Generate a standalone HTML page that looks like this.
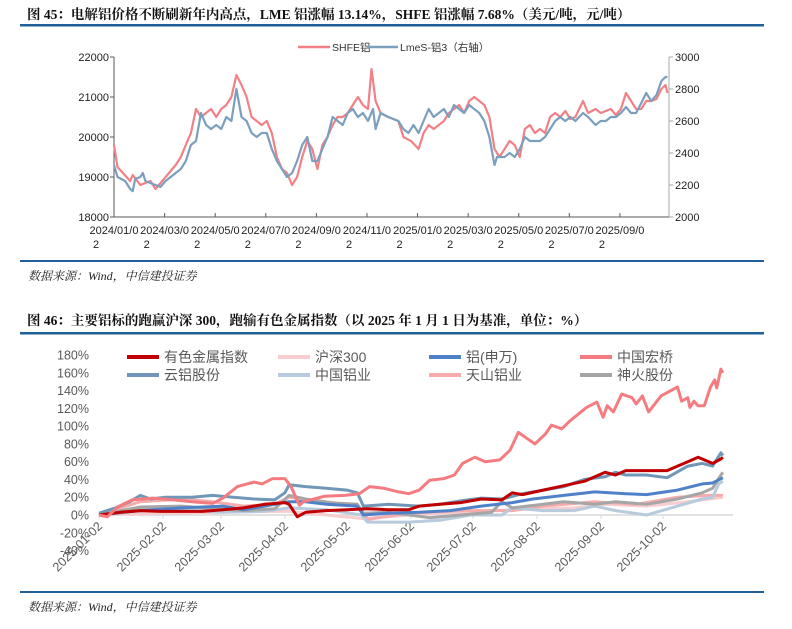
<!DOCTYPE html>
<html><head><meta charset="utf-8">
<style>
html,body{margin:0;padding:0;background:#fff;}
svg{display:block;font-family:"Liberation Sans","Noto Sans CJK SC",sans-serif;}
</style></head>
<body>
<svg id="page" width="792" height="629" viewBox="0 0 792 629">
  <text x="27" y="19" font-size="13.5" font-weight="bold" fill="#111" font-family="'Liberation Serif','Noto Serif CJK SC',serif">图 45：电解铝价格不断刷新年内高点，LME 铝涨幅 13.14%，SHFE 铝涨幅 7.68%（美元/吨，元/吨）</text>
  <rect x="20" y="24" width="744" height="2.5" fill="#1f5f9a"/>
  <g id="c1"></g>
  <rect x="20" y="260" width="744" height="2" fill="#1f5f9a"/>
  <text x="28" y="280" font-size="12" font-style="italic" fill="#222" font-family="'Liberation Serif','Noto Serif CJK SC',serif">数据来源：Wind，中信建投证券</text>

  <text x="27" y="325" font-size="13.5" font-weight="bold" fill="#111" font-family="'Liberation Serif','Noto Serif CJK SC',serif">图 46：主要铝标的跑赢沪深 300，跑输有色金属指数（以 2025 年 1 月 1 日为基准，单位：%）</text>
  <rect x="20" y="332" width="744" height="2.5" fill="#1f5f9a"/>
  <g id="c2"></g>
  <rect x="20" y="591" width="744" height="2" fill="#1f5f9a"/>
  <text x="28" y="611" font-size="12" font-style="italic" fill="#222" font-family="'Liberation Serif','Noto Serif CJK SC',serif">数据来源：Wind，中信建投证券</text>
</svg>
<script>
// ===== Chart 1 data =====
const shfeMonths=[0,.14,.64,.74,1.04,1.44,1.64,2.04,2.44,2.64,2.84,3.04,3.24,3.44,3.64,3.84,4.04,4.24,4.44,4.64,4.84,5.04,5.24,5.44,5.64,5.84,6.04,6.24,6.44,6.64,6.84,7.04,7.24,7.44,7.64,7.84,8.04,8.24,8.44,8.64,8.84,9.04,9.24,9.44,9.64,9.84,10.04,10.18,10.34,10.54,10.84,11.24,11.44,11.74,12.04,12.24,12.44,12.64,12.84,13.04,13.24,13.44,13.64,13.84,14.04,14.24,14.44,14.64,14.84,15.04,15.14,15.24,15.44,15.64,15.84,16.04,16.24,16.44,16.64,16.84,17.04,17.24,17.44,17.64,17.84,18.04,18.24,18.54,18.74,19.04,19.24,19.44,19.64,19.84,20.04,20.24,20.44,20.64,20.84,21.04,21.24,21.44,21.64,21.8,21.88];
const shfeValues=[19800,19250,18900,19050,18800,18900,18700,19000,19300,19500,19800,20100,20700,20500,20600,20700,20500,20700,20800,21000,21550,21300,21000,20500,20400,20300,20400,20100,19500,19200,19100,18800,19000,19500,19900,19700,19200,19800,20000,20300,20500,20500,20600,20800,21000,20800,20700,21700,20900,20600,20500,20400,20000,19900,19700,20100,20300,20200,20300,20400,20600,20700,20800,20600,20900,21000,20900,20800,20500,19700,19600,19500,19700,19900,19800,19500,20200,20300,20100,20200,20100,20500,20600,20500,20650,20450,20500,20900,20600,20700,20600,20650,20700,20550,20700,21100,20900,20700,20700,20900,20900,20950,21200,21300,21100];
const lmeMonths=[0,.14,.44,.64,.74,.84,1.04,1.14,1.24,1.64,1.84,2.04,2.44,2.64,2.84,3.04,3.24,3.44,3.64,3.84,4.04,4.24,4.44,4.64,4.84,5.04,5.24,5.44,5.64,5.84,6.04,6.24,6.44,6.64,6.84,7.04,7.24,7.44,7.64,7.84,8.04,8.24,8.44,8.64,8.84,9.04,9.24,9.44,9.64,9.84,10.04,10.24,10.34,10.54,10.84,11.24,11.44,11.64,11.84,12.04,12.24,12.44,12.64,12.84,13.04,13.24,13.44,13.64,13.84,14.04,14.24,14.44,14.64,14.84,15.04,15.14,15.44,15.64,15.84,16.04,16.24,16.44,16.64,16.84,17.04,17.24,17.44,17.64,17.84,18.04,18.24,18.54,18.74,19.04,19.24,19.44,19.64,19.84,20.04,20.24,20.44,20.64,20.84,21.04,21.24,21.44,21.64,21.8,21.88];
const lmeValues=[2325,2250,2225,2175,2162,2238,2250,2275,2225,2200,2188,2225,2275,2300,2350,2450,2475,2650,2575,2550,2575,2550,2625,2600,2800,2625,2600,2525,2500,2525,2525,2425,2350,2300,2250,2275,2350,2450,2500,2350,2350,2425,2500,2625,2600,2575,2650,2675,2625,2650,2600,2675,2550,2650,2625,2600,2550,2525,2575,2525,2600,2675,2625,2650,2675,2625,2700,2675,2650,2700,2675,2650,2600,2500,2325,2375,2375,2400,2375,2425,2500,2475,2475,2475,2500,2550,2600,2625,2600,2625,2600,2650,2625,2575,2600,2600,2625,2625,2650,2687,2650,2650,2712,2775,2725,2762,2850,2875,2875];
const leftTicks=[18000,19000,20000,21000,22000];
const rightTicks=[2000,2200,2400,2600,2800,3000];
const c1Labels=["2024/01/0","2024/03/0","2024/05/0","2024/07/0","2024/09/0","2024/11/0","2025/01/0","2025/03/0","2025/05/0","2025/07/0","2025/09/0"];

// ===== Chart 2 data =====
const seriesNames=["有色金属指数","沪深300","铝(申万)","中国宏桥","云铝股份","中国铝业","天山铝业","神火股份"];
const ysDays=[0,10,20,30,40,50,60,70,80,90,92,96,100,110,120,130,140,150,155,165,175,185,195,200,205,215,225,235,240,245,250,255,265,275,280,285,290,293,297,301,302];
const ysValues=[0,3,5,4,4,4,6,8,12,14,12,-2,3,5,6,7,6,6,10,12,14,18,17,25,23,28,33,38,43,48,45,50,50,50,55,60,65,62,58,63,65];
const hsDays=[0,30,60,80,92,128,150,175,200,230,245,265,285,302];
const hsValues=[0,2,3,4,4,-4,0,3,6,8,12,10,15,20];
const lvDays=[0,20,40,60,70,80,92,100,110,125,128,140,155,170,185,200,210,225,240,255,265,280,292,297,302];
const lvValues=[0,5,8,10,6,10,15,15,12,10,0,2,3,5,10,14,18,22,26,24,23,28,35,36,42];
const hqDays=[0,4,9,16,26,36,45,55,60,67,75,79,84,90,93,97,99,109,119,126,131,138,145,150,155,160,167,172,176,182,187,194,199,203,206,211,216,219,224,228,236,241,244,246,249,253,258,260,263,266,272,280,282,285,286,288,290,293,296,298,299,301,302];
const hqValues=[0,-2,9,17,19,17,15,13,19,32,37,35,41,41,32,11,15,21,22,24,32,30,26,24,28,39,41,45,58,65,60,62,73,93,88,80,91,101,97,106,121,127,110,123,116,136,132,125,134,116,134,144,128,132,121,128,123,123,144,152,143,164,160];
const ylDays=[0,8,15,20,25,32,45,55,65,75,85,90,92,100,110,120,125,128,140,155,165,175,185,195,205,215,225,235,245,250,255,265,275,285,292,297,301,302];
const ylValues=[2,8,15,22,18,20,20,22,20,18,17,25,34,32,30,28,25,10,12,10,12,16,19,18,24,28,32,40,43,48,45,45,42,55,58,55,70,67];
const zlDays=[0,20,40,60,80,92,110,127,130,150,165,180,195,200,215,230,240,250,265,280,292,297,300,302];
const zlValues=[0,6,6,3,4,8,6,0,-8,-8,-6,0,0,8,5,5,10,5,0,10,18,20,35,38];
const tsDays=[0,20,40,55,70,85,92,105,125,130,150,175,200,215,240,260,280,295,302];
const tsValues=[0,15,18,15,10,12,20,15,12,-5,2,5,5,10,15,12,20,22,22];
const shDays=[0,20,40,50,70,85,92,100,115,125,128,140,160,175,190,195,200,215,225,240,250,265,280,292,297,301,302];
const shValues=[0,9,10,8,5,7,22,18,13,12,2,3,-3,0,3,15,8,12,15,12,15,12,18,25,30,45,48];
const c2Ticks=[-40,-20,0,20,40,60,80,100,120,140,160,180];
const c2TickDays=[0,31,59,90,120,151,181,212,243,273];
const c2TickLabels=["2025-01-02","2025-02-02","2025-03-02","2025-04-02","2025-05-02","2025-06-02","2025-07-02","2025-08-02","2025-09-02","2025-10-02"];

const NS="http://www.w3.org/2000/svg";
function mk(parent,tag,attrs,text){const e=document.createElementNS(NS,tag);for(const k in attrs)e.setAttribute(k,attrs[k]);if(text!==undefined)e.textContent=text;parent.appendChild(e);return e;}

// ===== Chart 1 render =====
(function(){
  const g=document.getElementById('c1');
  const X0=114,X1=669,Y0=217,Y1=57,MMAX=21.94;
  const x=m=>X0+(m/MMAX)*(X1-X0);
  const yl=v=>Y0-(v-18000)/4000*(Y0-Y1);
  const yr=v=>Y0-(v-2000)/1000*(Y0-Y1);
  let a=mk(g,'line',{x1:X0,y1:Y1,x2:X0,y2:Y0,stroke:'#595959','stroke-width':1});
  
  
  a=mk(g,'line',{x1:X1,y1:Y1,x2:X1,y2:Y0,stroke:'#aaa','stroke-width':1});
  
  
  a=mk(g,'line',{x1:X0,y1:Y0,x2:X1,y2:Y0,stroke:'#595959','stroke-width':1});
  
  
  leftTicks.forEach(v=>{
    mk(g,'line',{x1:X0-4,y1:yl(v),x2:X0,y2:yl(v),stroke:'#595959'});
    const t=mk(g,'text',{x:X0-5,y:yl(v)+4,'font-size':11,'text-anchor':'end',fill:'#222'},String(v));
    
    
  });
  rightTicks.forEach(v=>{
    mk(g,'line',{x1:X1,y1:yr(v),x2:X1+4,y2:yr(v),stroke:'#aaa'});
    const t=mk(g,'text',{x:X1+6,y:yr(v)+4,'font-size':11,fill:'#222'},String(v));
    
    
  });
  c1Labels.forEach((l,i)=>{
    const xx=x(i*2);
    mk(g,'line',{x1:xx,y1:Y0,x2:xx,y2:Y0-4,stroke:'#595959'});
    const t=mk(g,'text',{x:xx,y:Y0+17,'font-size':11,'text-anchor':'middle',fill:'#222'},l);
    
    
    const t2=mk(g,'text',{x:xx-21,y:Y0+31,'font-size':11,fill:'#222'},'2');
    
    
  });
  const p1=mk(g,'path',{d:shfeMonths.map((m,i)=>(i?'L':'M')+x(m).toFixed(1)+','+yl(shfeValues[i]).toFixed(1)).join(''),fill:'none',stroke:'#f28086','stroke-width':2.2,'stroke-linejoin':'round'});
  
  
  const p2=mk(g,'path',{d:lmeMonths.map((m,i)=>(i?'L':'M')+x(m).toFixed(1)+','+yr(lmeValues[i]).toFixed(1)).join(''),fill:'none',stroke:'#7c9fbd','stroke-width':2.2,'stroke-linejoin':'round'});
  
  
  // legend
  const lg=mk(g,'g',{});
  
  
  mk(lg,'line',{x1:298,y1:47,x2:330,y2:47,stroke:'#f28086','stroke-width':2.5});
  let t=mk(lg,'text',{x:332,y:51,'font-size':10.5,fill:'#333'},'SHFE铝');
  
  
  mk(lg,'line',{x1:367,y1:47,x2:398,y2:47,stroke:'#7c9fbd','stroke-width':2.5});
  t=mk(lg,'text',{x:400,y:51,'font-size':10.5,fill:'#333'},'LmeS-铝3（右轴）');
  
  
})();

// ===== Chart 2 render =====
(function(){
  const g=document.getElementById('c2');
  const X0=99,PXD=2.066,Z=515,PX=160/180;
  const x=d=>X0+d*PXD;
  const y=v=>Z-v*PX;
  c2Ticks.forEach(v=>{
    const t=mk(g,'text',{x:89,y:y(v)+4.5,'font-size':12.5,'text-anchor':'end',fill:'#595959'},v+'%');
    
    
  });
  const ax=mk(g,'line',{x1:X0,y1:Z,x2:x(302)+10,y2:Z,stroke:'#d9d9d9','stroke-width':1.5});
  
  
  c2TickDays.forEach((d,i)=>{
    mk(g,'line',{x1:x(d),y1:Z,x2:x(d),y2:Z+4,stroke:'#d9d9d9'});
    const t=mk(g,'text',{x:x(d)+4,y:Z+12,'font-size':12.5,'text-anchor':'end',fill:'#595959',transform:`rotate(-45 ${x(d)+4} ${Z+12})`},c2TickLabels[i]);
    
    
  });
  const colors=['#c00000','#f7cdd0','#4f81c8','#f47c80','#7097b8','#b7cbdc','#f6abad','#a6a6a6'];
  const days=[ysDays,hsDays,lvDays,hqDays,ylDays,zlDays,tsDays,shDays];
  const vals=[ysValues,hsValues,lvValues,hqValues,ylValues,zlValues,tsValues,shValues];
  const ids=['nonferrous-index-line','csi300-line','aluminum-sw-line','china-hongqiao-line','yunnan-aluminium-line','chalco-line','tianshan-aluminum-line','shenhuo-line'];
  const order=[1,6,5,7,2,4,0,3];
  order.forEach(i=>{
    const p=mk(g,'path',{d:days[i].map((d,j)=>(j?'L':'M')+x(d).toFixed(1)+','+y(vals[i][j]).toFixed(1)).join(''),fill:'none',stroke:colors[i],'stroke-width':3,'stroke-linejoin':'round'});
    
    
  });
  const lx=[127,278,429,580],ly=[357,375];
  seriesNames.forEach((n,i)=>{
    const cx=lx[i%4],cy=ly[Math.floor(i/4)];
    const lg=mk(g,'g',{});
    
    
    mk(lg,'line',{x1:cx,y1:cy,x2:cx+32,y2:cy,stroke:colors[i],'stroke-width':4});
    mk(lg,'text',{x:cx+37,y:cy+5,'font-size':14,fill:'#595959'},n);
  });
})();
</script>
</body></html>
